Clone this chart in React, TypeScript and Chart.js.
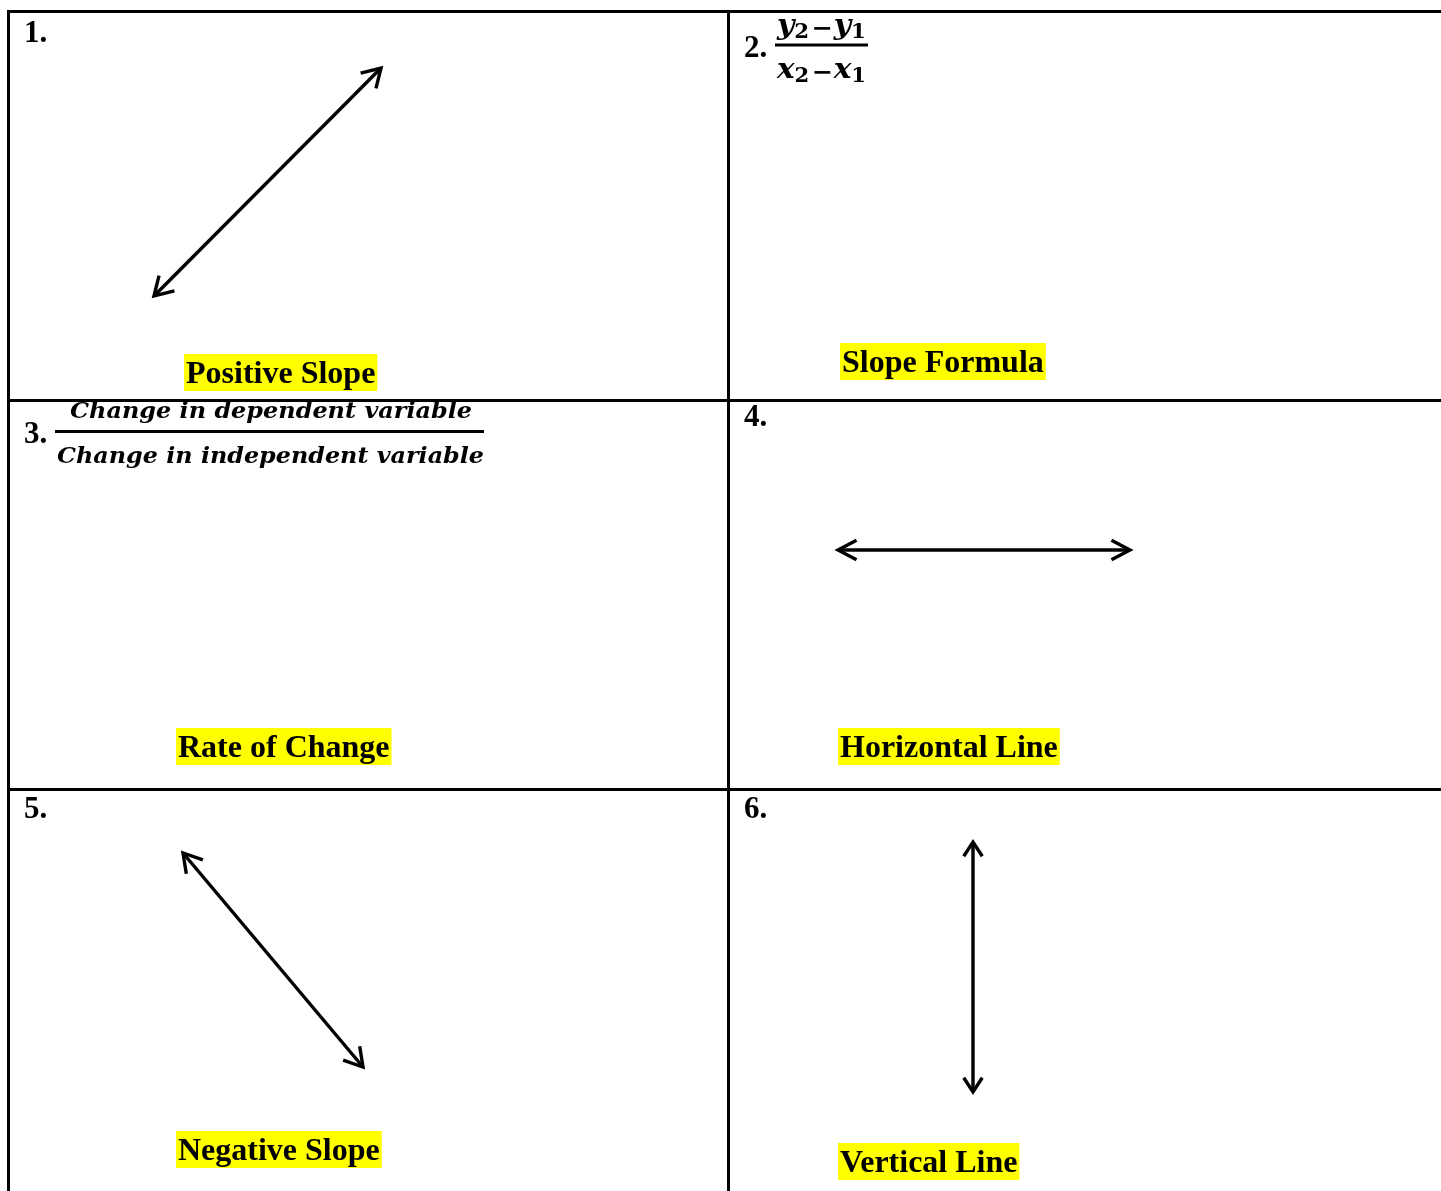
import React, { useEffect, useRef } from "react";
import { Chart, registerables } from "chart.js";

Chart.register(...registerables);

const PAGE_W = 1441;
const PAGE_H = 1191;

// table grid lines (data space = page space)
const rowLineY = [11.5, 400.5, 789.5];
const colLineX = [8.5, 728.5];
const gridWidth = 3;

// double-headed arrows: tip A and tip B
const arrowNames = ["positive", "horizontal", "negative", "vertical"];
const arrowTipAX = [154, 838, 183, 973];
const arrowTipAY = [296, 550, 853, 842];
const arrowTipBX = [381, 1130, 363, 973];
const arrowTipBY = [68, 550, 1067, 1092];
const arrowHeadLen = [21, 21, 21, 17];
const arrowHeadDeg = [31, 28, 31, 33];
const arrowWidth = 3.4;

// cell numbers
const cellNumbers = ["1.", "2.", "3.", "4.", "5.", "6."];
const cellNumberX = [24, 744, 24, 744, 24, 744];
const cellNumberY = [42, 57, 443, 426, 818, 818];

// highlighted labels
const labelTexts = ["Positive Slope", "Slope Formula", "Rate of Change", "Horizontal Line", "Negative Slope", "Vertical Line"];
const labelX = [186, 842, 178, 840, 178, 840];
const labelY = [383, 372, 757, 757, 1160, 1172];

// slope formula fraction (cell 2)
const slopeNumParts = ["y", "2", "\u2212", "y", "1"];
const slopeDenParts = ["x", "2", "\u2212", "x", "1"];
const slopePartRoles = ["var", "sub", "op", "var", "sub"];
const slopeFracX = [777, 867];
const slopeNumBaseline = 34;
const slopeDenBaseline = 78;
const slopeBarY = 45;
const slopeBarX = [775, 868];

// rate of change fraction (cell 3)
const rateNumText = "Change in dependent variable";
const rateDenText = "Change in independent variable";
const rateNumX = [70, 472];
const rateDenX = [57, 484];
const rateNumBaseline = 418;
const rateDenBaseline = 463;
const rateBarY = 431.5;
const rateBarX = [55, 484];

function seg(x1: number, y1: number, x2: number, y2: number, width: number) {
  return {
    data: [
      { x: x1, y: y1 },
      { x: x2, y: y2 },
    ],
    showLine: true,
    borderColor: "#000",
    backgroundColor: "#000",
    borderWidth: width,
    pointRadius: 0,
    fill: false,
    tension: 0,
    borderCapStyle: "butt" as const,
    borderJoinStyle: "miter" as const,
  };
}

function head(tx: number, ty: number, fx: number, fy: number, len: number, deg: number) {
  // chevron at tip (tx,ty), pointing away from (fx,fy)
  const a = Math.atan2(fy - ty, fx - tx);
  const r = (deg * Math.PI) / 180;
  return {
    data: [
      { x: tx + len * Math.cos(a + r), y: ty + len * Math.sin(a + r) },
      { x: tx, y: ty },
      { x: tx + len * Math.cos(a - r), y: ty + len * Math.sin(a - r) },
    ],
    showLine: true,
    borderColor: "#000",
    backgroundColor: "#000",
    borderWidth: arrowWidth,
    pointRadius: 0,
    fill: false,
    tension: 0,
    borderCapStyle: "butt" as const,
    borderJoinStyle: "miter" as const,
  };
}

function buildDatasets() {
  const ds: any[] = [];
  rowLineY.forEach((y) => ds.push(seg(colLineX[0] - 1.5, y, PAGE_W + 2, y, gridWidth)));
  colLineX.forEach((x) => ds.push(seg(x, rowLineY[0] - 1.5, x, PAGE_H + 2, gridWidth)));
  arrowNames.forEach((_, i) => {
    ds.push(seg(arrowTipAX[i], arrowTipAY[i], arrowTipBX[i], arrowTipBY[i], arrowWidth));
    ds.push(head(arrowTipAX[i], arrowTipAY[i], arrowTipBX[i], arrowTipBY[i], arrowHeadLen[i], arrowHeadDeg[i]));
    ds.push(head(arrowTipBX[i], arrowTipBY[i], arrowTipAX[i], arrowTipAY[i], arrowHeadLen[i], arrowHeadDeg[i]));
  });
  ds.push(seg(slopeBarX[0], slopeBarY, slopeBarX[1], slopeBarY, 3));
  ds.push(seg(rateBarX[0], rateBarY, rateBarX[1], rateBarY, 3));
  return ds;
}

const SERIF = '"Liberation Serif", "Times New Roman", serif';
const MATH = '"DejaVu Serif", serif';

function drawFitted(ctx: CanvasRenderingContext2D, text: string, font: string, x: number, baseline: number, width: number) {
  ctx.font = font;
  const w = ctx.measureText(text).width;
  ctx.save();
  ctx.translate(x, baseline);
  ctx.scale(width / w, 1);
  ctx.fillText(text, 0, 0);
  ctx.restore();
}

function drawRuns(ctx: CanvasRenderingContext2D, parts: string[], x0: number, x1: number, baseline: number) {
  const fonts: Record<string, string> = {
    var: `italic bold 28px ${MATH}`,
    sub: `bold 20px ${MATH}`,
    op: `bold 24px ${MATH}`,
  };
  const dys: Record<string, number> = { var: 0, sub: 4, op: 2 };
  const gaps: Record<string, number> = { var: 0, sub: 1, op: 2 };
  const widths = parts.map((p, i) => {
    ctx.font = fonts[slopePartRoles[i]];
    return ctx.measureText(p).width + gaps[slopePartRoles[i]];
  });
  const total = widths.reduce((a, b) => a + b, 0);
  const k = (x1 - x0) / total;
  ctx.save();
  ctx.translate(x0, baseline);
  ctx.scale(k, 1);
  let cx = 0;
  parts.forEach((p, i) => {
    const role = slopePartRoles[i];
    ctx.font = fonts[role];
    ctx.fillText(p, cx + (role === "op" ? 1 : 0), dys[role]);
    cx += widths[i];
  });
  ctx.restore();
}

const textPlugin = {
  id: "tableText",
  afterDatasetsDraw(chart: any) {
    const ctx: CanvasRenderingContext2D = chart.ctx;
    const xs = chart.scales.x;
    const ys = chart.scales.y;
    const px = (v: number) => xs.getPixelForValue(v);
    const py = (v: number) => ys.getPixelForValue(v);
    ctx.save();
    ctx.textAlign = "left";
    ctx.textBaseline = "alphabetic";
    ctx.fillStyle = "#000";

    // cell numbers
    ctx.font = `bold 31px ${SERIF}`;
    cellNumbers.forEach((t, i) => ctx.fillText(t, px(cellNumberX[i]), py(cellNumberY[i])));

    // highlighted labels
    labelTexts.forEach((t, i) => {
      ctx.font = `bold 32px ${SERIF}`;
      const w = ctx.measureText(t).width;
      const x = px(labelX[i]);
      const b = py(labelY[i]);
      ctx.fillStyle = "#ffff00";
      ctx.fillRect(x - 2, b - 29, w + 4, 37);
      ctx.fillStyle = "#000";
      ctx.fillText(t, x, b);
    });

    // slope formula
    drawRuns(ctx, slopeNumParts, px(slopeFracX[0]), px(slopeFracX[1]), py(slopeNumBaseline));
    drawRuns(ctx, slopeDenParts, px(slopeFracX[0]), px(slopeFracX[1]), py(slopeDenBaseline));

    // rate of change fraction
    const f = `italic bold 23px ${MATH}`;
    drawFitted(ctx, rateNumText, f, px(rateNumX[0]), py(rateNumBaseline), px(rateNumX[1]) - px(rateNumX[0]));
    drawFitted(ctx, rateDenText, f, px(rateDenX[0]), py(rateDenBaseline), px(rateDenX[1]) - px(rateDenX[0]));
    ctx.restore();
  },
};

export default function App() {
  const ref = useRef<HTMLCanvasElement | null>(null);
  useEffect(() => {
    document.body.style.margin = "0";
    document.body.style.overflow = "hidden";
    document.body.style.background = "#fff";
    if (!ref.current) return;
    const chart = new Chart(ref.current, {
      type: "scatter",
      data: { datasets: buildDatasets() },
      options: {
        responsive: false,
        animation: false,
        events: [],
        layout: { padding: 0 },
        plugins: { legend: { display: false }, tooltip: { enabled: false } },
        scales: {
          x: { type: "linear", min: 0, max: PAGE_W, display: false },
          y: { type: "linear", min: 0, max: PAGE_H, reverse: true, display: false },
        },
      },
      plugins: [textPlugin],
    } as any);
    return () => chart.destroy();
  }, []);
  return (
    <div style={{ position: "absolute", left: 0, top: 0, width: PAGE_W, height: PAGE_H, background: "#fff" }}>
      <canvas ref={ref} width={PAGE_W} height={PAGE_H} style={{ display: "block", width: PAGE_W, height: PAGE_H }} />
    </div>
  );
}
